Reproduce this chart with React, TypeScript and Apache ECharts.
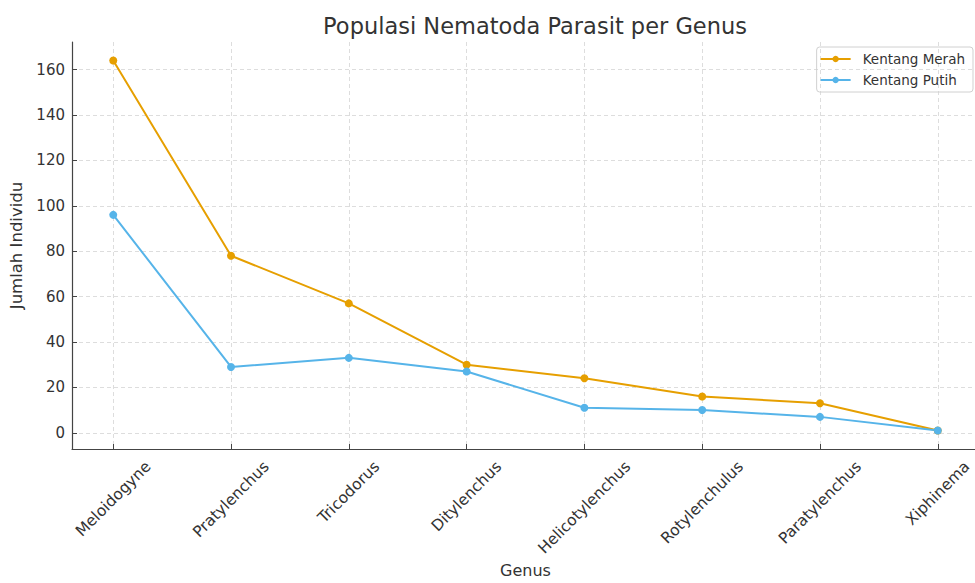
import React, { useEffect, useRef } from "react";
import * as echarts from "echarts";

const genera = ["Meloidogyne", "Pratylenchus", "Tricodorus", "Ditylenchus", "Helicotylenchus", "Rotylenchulus", "Paratylenchus", "Xiphinema"];
const kentangMerah = [164, 78, 57, 30, 24, 16, 13, 1];
const kentangPutih = [96, 29, 33, 27, 11, 10, 7, 1];
const yTicks = [0, 20, 40, 60, 80, 100, 120, 140, 160];
const xTicks = genera.map((_, i) => i);

const FONT = "DejaVu Sans";
const Y_MIN = -7.15;
const Y_MAX = 172.15;
const LABEL_SIZE = 15.5;

function measure(text: string): number {
  const c = document.createElement("canvas");
  const ctx = c.getContext("2d");
  if (!ctx) return text.length * LABEL_SIZE * 0.6;
  ctx.font = `${LABEL_SIZE}px "${FONT}"`;
  return ctx.measureText(text).width;
}

export default function App() {
  const ref = useRef<HTMLDivElement>(null);
  useEffect(() => {
    document.body.style.margin = "0";
    document.body.style.overflow = "hidden";
    if (!ref.current) return;
    const chart = echarts.init(ref.current, null, { renderer: "svg" });
    const mk = (name: string, vals: number[], color: string) => ({
      name,
      type: "line",
      data: vals.map((v, i) => [i, v]),
      symbol: "circle",
      symbolSize: 8,
      lineStyle: { width: 2, color },
      itemStyle: { color },
      z: 3,
    });
    const widths = genera.map(measure);
    chart.setOption({
      animation: false,
      backgroundColor: "#ffffff",
      textStyle: { fontFamily: FONT },
      title: {
        text: "Populasi Nematoda Parasit per Genus",
        left: 530,
        textAlign: "center",
        top: 9,
        textStyle: { fontFamily: FONT, fontSize: 22.5, fontWeight: "normal", color: "#333333" },
      },
      legend: {
        orient: "vertical",
        right: 12,
        top: 47,
        padding: [5, 8, 5, 3],
        itemGap: 7,
        itemWidth: 30,
        itemHeight: 8,
        borderColor: "#d0d0d0",
        borderWidth: 1,
        borderRadius: 3,
        textStyle: { fontFamily: FONT, fontSize: 13.5, color: "#333333", padding: [0, 0, 0, 7] },
        data: ["Kentang Merah", "Kentang Putih"],
      },
      grid: { left: 72, right: 6, top: 42, bottom: 130, containLabel: false },
      xAxis: {
        type: "value",
        min: -0.35,
        max: 7.35,
        name: "Genus",
        nameLocation: "middle",
        nameGap: 113,
        nameTextStyle: { fontFamily: FONT, fontSize: 16, color: "#333333" },
        axisLine: { show: true, onZero: false, lineStyle: { color: "#444444", width: 1.2 } },
        axisTick: { show: true, inside: true, length: 5, customValues: xTicks, lineStyle: { color: "#444444" } },
        axisLabel: { show: false },
        splitLine: { show: true, lineStyle: { color: "#dddddd", type: [4, 3], width: 1 } },
      },
      yAxis: {
        type: "value",
        min: Y_MIN,
        max: Y_MAX,
        name: "Jumlah Individu",
        nameLocation: "middle",
        nameRotate: 90,
        nameGap: 46,
        nameTextStyle: { fontFamily: FONT, fontSize: 16.5, color: "#333333" },
        axisLine: { show: true, onZero: false, lineStyle: { color: "#444444", width: 1.2 } },
        axisTick: { show: true, inside: true, length: 5, customValues: yTicks, lineStyle: { color: "#444444" } },
        axisLabel: {
          customValues: yTicks,
          fontFamily: FONT,
          fontSize: 15,
          color: "#333333",
          margin: 7,
        },
        splitLine: { show: true, lineStyle: { color: "#dddddd", type: [4, 3], width: 1 } },
      },
      series: [
        mk("Kentang Merah", kentangMerah, "#E69F00"),
        mk("Kentang Putih", kentangPutih, "#56B4E9"),
        {
          name: "labels",
          type: "custom",
          silent: true,
          clip: false,
          data: xTicks.map((i) => [i, Y_MIN]),
          encode: { x: 0, y: 1 },
          renderItem: (params: any, api: any) => {
            const idx = params.dataIndex;
            const p = api.coord([api.value(0), api.value(1)]);
            const w = widths[idx];
            const h = (w + LABEL_SIZE * 1.1) / Math.SQRT2;
            return {
              type: "text",
              x: p[0],
              y: p[1] + 9 + h / 2,
              rotation: Math.PI / 4,
              style: {
                text: genera[idx],
                x: 0,
                y: 0,
                align: "center",
                verticalAlign: "middle",
                fontFamily: FONT,
                fontSize: LABEL_SIZE,
                fill: "#333333",
              },
            };
          },
        },
      ],
    });
    return () => chart.dispose();
  }, []);
  return (
    <div
      ref={ref}
      style={{ position: "fixed", left: 0, top: 0, width: 985, height: 583, overflow: "hidden" }}
    />
  );
}
